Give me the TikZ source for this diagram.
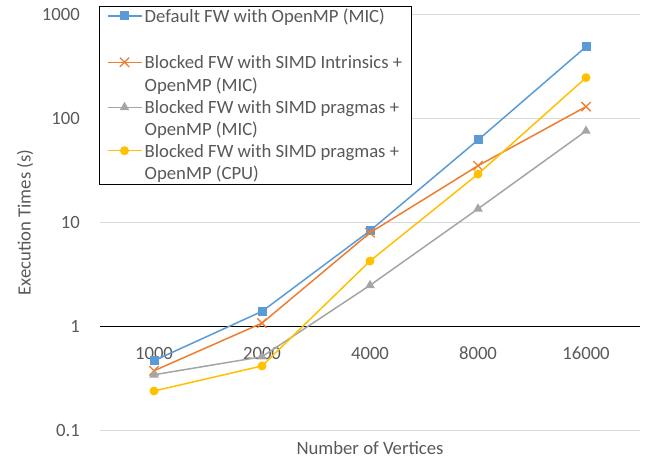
\documentclass[tikz,border=0pt]{standalone}
\usepackage{fontspec}
\setmainfont{Carlito}
\usepackage{xcolor}
\usepackage{tikz}
\usetikzlibrary{shapes.geometric,shapes.misc}

\definecolor{fwblue}{HTML}{5B9BD5}
\definecolor{fworange}{HTML}{ED7D31}
\definecolor{fwgray}{HTML}{A5A5A5}
\definecolor{fwyellow}{HTML}{FFC000}
\definecolor{labelgray}{HTML}{595959}
\definecolor{gridgray}{HTML}{D9D9D9}

\begin{document}
\begin{tikzpicture}
    [%%%%%%%%%%%%%%%%%%%%%%%%%%%%%%
        x=1pt, y=-1pt,
        lbl/.style={text=labelgray, font=\fontsize{18.7}{22}\selectfont, inner sep=0pt},
        gridline/.style={draw=gridgray, line width=1pt},
        series/.style={line width=1.5pt, line join=round},
        sqmark/.style={rectangle, fill=fwblue, minimum size=9pt, inner sep=0pt},
        xmark/.style={cross out, draw=fworange, line width=1.3pt, minimum size=8pt, inner sep=0pt},
        trimark/.style={regular polygon, regular polygon sides=3, fill=fwgray, minimum size=11pt, inner sep=0pt},
        dotmark/.style={circle, fill=fwyellow, minimum size=9pt, inner sep=0pt}
    ]%%%%%%%%%%%%%%%%%%%%%%%%%%%%%%
\useasboundingbox (0,0) rectangle (650,460);

% log axis: 104.2 units per decade, 1 sits at 326.6
\foreach \v in {1000,100,10,0.1}
    \draw[gridline] (100,{326.6-104.2*log10(\v)}) -- (640,{326.6-104.2*log10(\v)});

\draw[black, line width=1.2pt] (100,326.6) -- (640,326.6);

\foreach \v [count=\i] in {1000,100,10,1,0.1}
    \node[lbl, anchor=east] (ytick\i) at (80,{326.6-104.2*log10(\v)}) {\v};

\foreach \n [count=\i] in {1000,2000,4000,8000,16000}
    \node[lbl] (xtick\i) at ({46+108*\i},353) {\n};

\node[lbl, rotate=90] (ytitle) at (25,222.5) {Execution Times (s)};
\node[lbl] (xtitle) at (370,448) {Number of Vertices};

% default FW (MIC)
\foreach \v [count=\i] in {0.471,1.40,8.32,61.8,485}
    \coordinate (b\i) at ({46+108*\i},{326.6-104.2*log10(\v)});
\draw[series, fwblue] (b1) -- (b2) -- (b3) -- (b4) -- (b5);
\foreach \i in {1,...,5}
    \node[sqmark] (bm\i) at (b\i) {};

% blocked, intrinsics (MIC)
\foreach \v [count=\i] in {0.377,1.08,7.96,35.0,129}
    \coordinate (o\i) at ({46+108*\i},{326.6-104.2*log10(\v)});
\draw[series, fworange] (o1) -- (o2) -- (o3) -- (o4) -- (o5);
\foreach \i in {1,...,5}
    \node[xmark] (om\i) at (o\i) {};

% blocked, pragmas (MIC)
\foreach \v [count=\i] in {0.345,0.514,2.49,13.5,75.4}
    \coordinate (g\i) at ({46+108*\i},{326.6-104.2*log10(\v)});
\draw[series, fwgray] (g1) -- (g2) -- (g3) -- (g4) -- (g5);
\foreach \i in {1,...,5}
    \node[trimark] (gm\i) at (g\i) {};

% blocked, pragmas (CPU)
\foreach \v [count=\i] in {0.241,0.419,4.26,29.1,245}
    \coordinate (y\i) at ({46+108*\i},{326.6-104.2*log10(\v)});
\draw[series, fwyellow] (y1) -- (y2) -- (y3) -- (y4) -- (y5);
\foreach \i in {1,...,5}
    \node[dotmark] (ym\i) at (y\i) {};

% legend
\node[draw=black, line width=1.2pt, fill=white, inner sep=0pt,
      minimum width=312pt, minimum height=178pt, anchor=north west] (legend) at (99,6) {};

\coordinate (key1a) at (108,16);
\coordinate (key1b) at (141.7,16);
\draw[series, fwblue] (key1a) -- (key1b);
\node[sqmark] (keym1) at (124.5,16) {};

\coordinate (key2a) at (108,62.3);
\coordinate (key2b) at (141.7,62.3);
\draw[series, fworange] (key2a) -- (key2b);
\node[xmark] (keym2) at (124.5,62.3) {};

\coordinate (key3a) at (108,107.3);
\coordinate (key3b) at (141.7,107.3);
\draw[series, fwgray] (key3a) -- (key3b);
\node[trimark] (keym3) at (124.5,107.3) {};

\coordinate (key4a) at (108,150.7);
\coordinate (key4b) at (141.7,150.7);
\draw[series, fwyellow] (key4a) -- (key4b);
\node[dotmark] (keym4) at (124.5,150.7) {};

\node[lbl, anchor=base west] (entry1) at (144.5,22.3) {Default FW with OpenMP (MIC)};
\node[lbl, anchor=base west] (entry2a) at (144.5,68.3) {Blocked FW with SIMD Intrinsics +};
\node[lbl, anchor=base west] (entry2b) at (144.5,91) {OpenMP (MIC)};
\node[lbl, anchor=base west] (entry3a) at (144.5,113.5) {Blocked FW with SIMD pragmas +};
\node[lbl, anchor=base west] (entry3b) at (144.5,135.5) {OpenMP (MIC)};
\node[lbl, anchor=base west] (entry4a) at (144.5,157.5) {Blocked FW with SIMD pragmas +};
\node[lbl, anchor=base west] (entry4b) at (144.5,179.5) {OpenMP (CPU)};

\end{tikzpicture}
\end{document}
